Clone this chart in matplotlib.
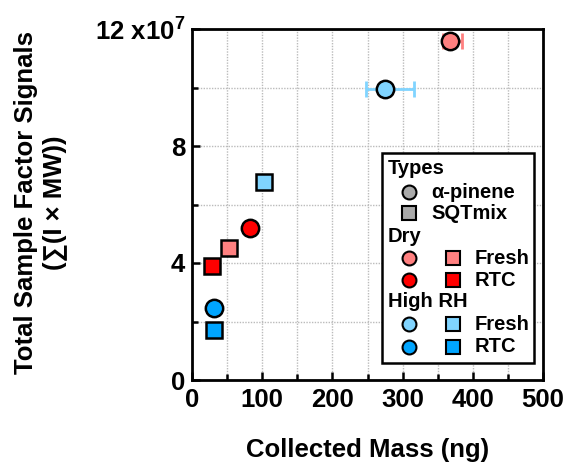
import matplotlib
matplotlib.use("Agg")
import matplotlib.pyplot as plt
from matplotlib.patches import Rectangle

plt.rcParams['font.family'] = ['Liberation Sans', 'DejaVu Sans']
plt.rcParams['font.weight'] = 'bold'
plt.rcParams['mathtext.fontset'] = 'custom'
plt.rcParams['mathtext.rm'] = 'Liberation Sans:bold'
plt.rcParams['mathtext.it'] = 'Liberation Sans:bold'
plt.rcParams['mathtext.bf'] = 'Liberation Sans:bold'

# ---- data (signals in units of 1e7) ----
labels = ["Dry Fresh a-pinene", "High RH Fresh a-pinene", "High RH Fresh SQTmix",
          "Dry RTC a-pinene", "Dry Fresh SQTmix", "Dry RTC SQTmix",
          "High RH RTC a-pinene", "High RH RTC SQTmix"]
mass = [368, 275, 103, 83, 53, 29, 32, 31]
mass_err_low = [10, 27, 0, 0, 0, 0, 0, 0]
mass_err_high = [16, 41, 0, 0, 0, 0, 0, 0]
signal = [11.6, 9.95, 6.77, 5.19, 4.52, 3.91, 2.47, 1.71]
shape = ['o', 'o', 's', 'o', 's', 's', 'o', 's']
condition = ['dry_fresh', 'rh_fresh', 'rh_fresh', 'dry_rtc', 'dry_fresh', 'dry_rtc',
             'rh_rtc', 'rh_rtc']

xticks = [0, 100, 200, 300, 400, 500]
yticks = [0, 4, 8, 12]
ytick_labels = ['0', '4', '8', '12 x10$^{7}$']

colors = {'dry_fresh': '#FF8080', 'dry_rtc': '#FF0000',
          'rh_fresh': '#80D4FF', 'rh_rtc': '#00A5FF'}

fig = plt.figure(figsize=(5.66, 4.63), dpi=100)
ax = fig.add_axes([192 / 566, 1 - 380 / 463, 351 / 566, 351 / 463])

ax.set_xlim(0, 500)
ax.set_ylim(0, 12)
ax.set_xticks(xticks)
ax.set_xticks([50, 150, 250, 350, 450], minor=True)
ax.set_yticks(yticks)
ax.set_yticklabels(ytick_labels)
ax.set_yticks([2, 6, 10], minor=True)
ax.grid(True, which='both', color='#BBBBBB', linestyle=(0, (1, 1)), linewidth=1.0)
ax.set_axisbelow(True)

for side in ax.spines.values():
    side.set_linewidth(2.0)
ax.tick_params(axis='both', which='major', direction='in', length=6, width=1.8,
               labelsize=18.5)
ax.tick_params(axis='both', which='minor', direction='in', length=4, width=1.8)
ax.tick_params(axis='x', which='major', pad=6)
ax.tick_params(axis='y', which='major', pad=5)

for m, lo, hi, s, sh, c in zip(mass, mass_err_low, mass_err_high, signal, shape, condition):
    col = colors[c]
    if lo > 0 or hi > 0:
        ax.errorbar(m, s, xerr=[[lo], [hi]], fmt='none', ecolor=col, elinewidth=2.0,
                    capsize=5.5, capthick=2.0, zorder=3, clip_on=False)
    ax.plot(m, s, marker=sh, markersize=12.5 if sh == 'o' else 12,
            markerfacecolor=col, markeredgecolor='black', markeredgewidth=1.8,
            linestyle='none', zorder=4, clip_on=False)

ax.set_xlabel('Collected Mass (ng)', fontsize=18.5, fontweight='bold')
ax.xaxis.set_label_coords(0.5, -0.2)
ax.xaxis.label.set_va('center')
ax.set_ylabel('Total Sample Factor Signals\n(\u2211(I \u00d7 MW))', fontsize=18.5,
              fontweight='bold', linespacing=1.2)
ax.yaxis.set_label_coords(-0.432, 0.505)
ax.yaxis.label.set_va('center')

# ---- custom legend ----
def fx(px):
    return (px - 192) / 351

def fy(py):
    return (380 - py) / 351

tr = ax.transAxes
ax.add_patch(Rectangle((fx(381.7), fy(363)), fx(534.3) - fx(381.7), fy(152.7) - fy(363),
                       transform=tr, facecolor='white', edgecolor='black',
                       linewidth=1.8, zorder=5))
lfs = 14.5
head_x = fx(388)
mk1_x = fx(409.3)
mk2_x = fx(452.7)
txt1_x = fx(431)
txt2_x = fx(474.3)

def lmark(x, y, m, col):
    ax.plot([x], [y], marker=m, markersize=10 if m == 'o' else 9.5,
            markerfacecolor=col, markeredgecolor='black', markeredgewidth=1.5,
            transform=tr, zorder=6, linestyle='none', clip_on=False)

def ltext(x, y, s):
    ax.text(x, y, s, transform=tr, fontsize=lfs, fontweight='bold',
            ha='left', va='center', zorder=6)

ltext(head_x, fy(169), 'Types')
lmark(mk1_x, fy(192.3), 'o', '#AAAAAA')
ltext(txt1_x, fy(192.3), '\u03b1-pinene')
lmark(mk1_x, fy(213.3), 's', '#AAAAAA')
ltext(txt1_x, fy(213.3), 'SQTmix')

ltext(head_x, fy(236), 'Dry')
lmark(mk1_x, fy(258.3), 'o', colors['dry_fresh'])
lmark(mk2_x, fy(258.3), 's', colors['dry_fresh'])
ltext(txt2_x, fy(258.3), 'Fresh')
lmark(mk1_x, fy(280), 'o', colors['dry_rtc'])
lmark(mk2_x, fy(280), 's', colors['dry_rtc'])
ltext(txt2_x, fy(280), 'RTC')

ltext(head_x, fy(301.7), 'High RH')
lmark(mk1_x, fy(324), 'o', colors['rh_fresh'])
lmark(mk2_x, fy(324), 's', colors['rh_fresh'])
ltext(txt2_x, fy(324), 'Fresh')
lmark(mk1_x, fy(346.7), 'o', colors['rh_rtc'])
lmark(mk2_x, fy(346.7), 's', colors['rh_rtc'])
ltext(txt2_x, fy(346.7), 'RTC')

fig.savefig('out.png', dpi=100)
